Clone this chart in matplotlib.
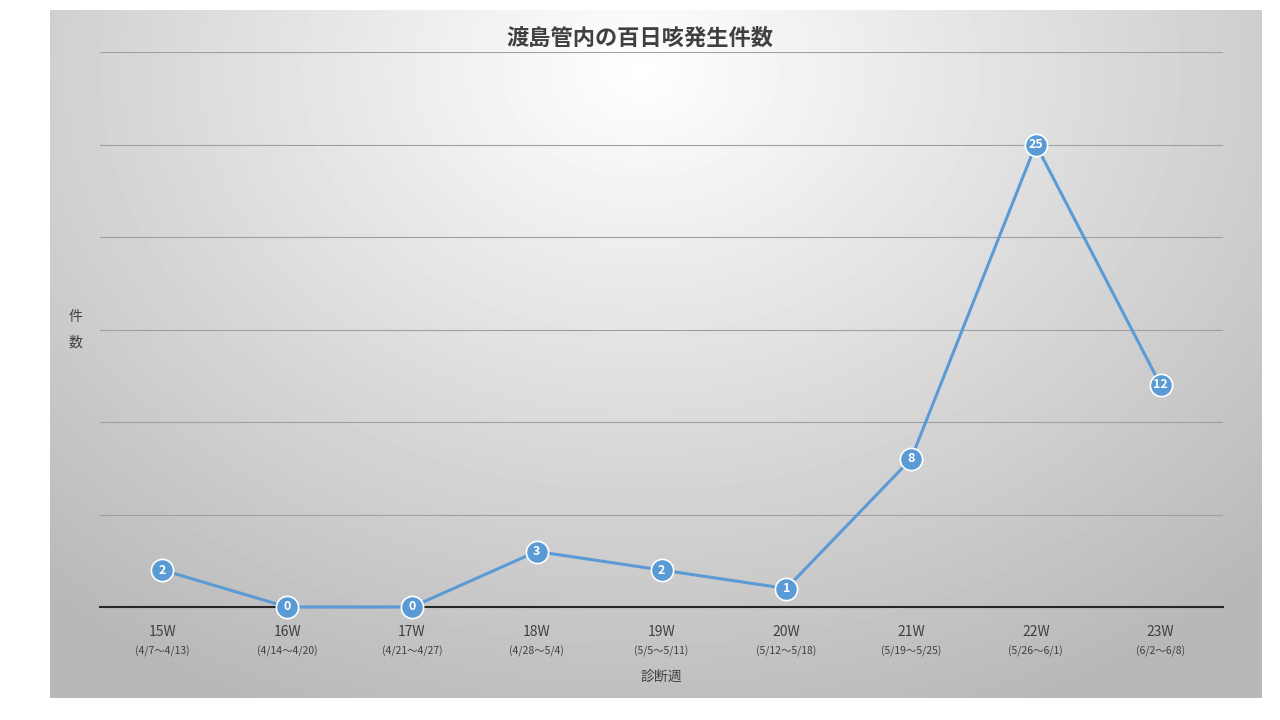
import numpy as np
import matplotlib
matplotlib.use("Agg")
import matplotlib.pyplot as plt

plt.rcParams['font.family'] = 'Noto Sans CJK JP'

weeks = ["15W","16W","17W","18W","19W","20W","21W","22W","23W"]
ranges = ["(4/7～4/13)","(4/14～4/20)","(4/21～4/27)","(4/28～5/4)","(5/5～5/11)",
          "(5/12～5/18)","(5/19～5/25)","(5/26～6/1)","(6/2～6/8)"]
counts = [2,0,0,3,2,1,8,25,12]

fig = plt.figure(figsize=(12.8,7.2), dpi=100)
bg = fig.add_axes([50/1280, 22/720, 1212/1280, 688/720])
yy, xx = np.mgrid[0:688, 0:1212]
d = np.sqrt(((xx-590)/900)**2 + ((yy-60)/700)**2)
d = np.clip(d, 0, 1)
img = 1.0 - 0.28*d
bg.imshow(img, cmap='gray', vmin=0, vmax=1, aspect='auto', interpolation='bilinear')
bg.axis('off')

ax = fig.add_axes([100/1280, 113/720, 1123/1280, 555/720])
ax.patch.set_alpha(0)
x = np.arange(len(weeks))
ax.set_xlim(-0.5, len(weeks)-0.5)
ax.set_ylim(0, 30)
ax.set_yticks(np.arange(0, 31, 5))
ax.yaxis.grid(True, color='#a0a0a0', lw=0.8)
ax.tick_params(axis='y', left=False, labelleft=False)
ax.tick_params(axis='x', bottom=False)
for s in ['top','right','left']:
    ax.spines[s].set_visible(False)
ax.spines['bottom'].set_color('#262626'); ax.spines['bottom'].set_linewidth(1.5)
ax.set_xticks(x)
ax.set_xticklabels([""]*len(x))
for i in x:
    ax.text(i, -1.0, weeks[i], ha='center', va='top', fontsize=10, color='#404040')
    ax.text(i, -2.1, ranges[i], ha='center', va='top', fontsize=7.5, color='#404040')
ax.plot(x, counts, color='#5b9bd5', lw=2.2, marker='o', ms=16,
        mfc='#5b9bd5', mec='white', mew=1.2, clip_on=False, zorder=3)
for i, v in zip(x, counts):
    ax.text(i, v, str(v), ha='center', va='center', color='white', fontsize=9,
            fontweight='bold', zorder=4)
fig.text(640/1280, 1-38/720, "渡島管内の百日咳発生件数", ha='center', va='center',
         fontsize=16, fontweight='bold', color='#404040')
fig.text(75/1280, 1-330/720, "件\n\n数", ha='center', va='center', fontsize=10,
         color='#404040', linespacing=0.9)
fig.text(661/1280, 1-677/720, "診断週", ha='center', va='center', fontsize=10,
         color='#404040')
fig.savefig("out.png", dpi=100)
